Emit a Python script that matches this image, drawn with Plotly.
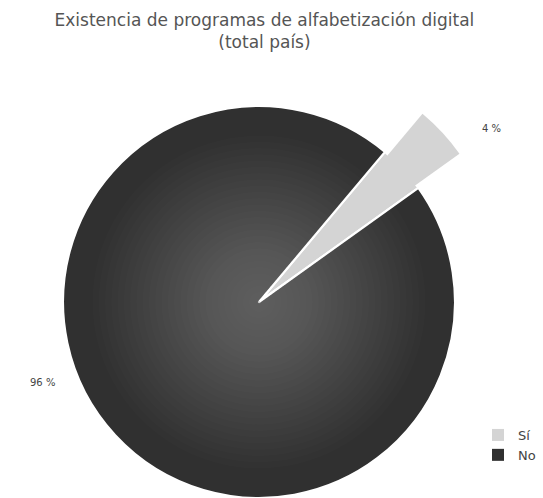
import plotly.graph_objects as go

# Datos
labels = ["Sí", "No"]
values = [4, 96]
colors = ["#d4d4d4", "#303030"]

W, H = 543, 498

def px_dom(cx, cy, r):
    """Domain (paper fractions) of a square of radius r centred at pixel (cx, cy)."""
    return dict(x=[max(0, (cx - r) / W), min(1, (cx + r) / W)],
                y=[max(0, 1 - (cy + r) / H), min(1, 1 - (cy - r) / H)])

CX, CY, R = 259, 302, 196          # main pie
ROT = 40                           # start angle of the first slice (clockwise)

def pie(domain, slice_colors, line_width=0, **kw):
    return go.Pie(
        labels=labels, values=values, sort=False, direction="clockwise", rotation=ROT,
        domain=domain, textinfo="none",
        marker=dict(colors=slice_colors, line=dict(color="white", width=line_width)),
        **kw,
    )

fig = go.Figure()

# Main pie
fig.add_trace(pie(px_dom(CX, CY, R), colors, 2.2,
                  hoverinfo="label+percent", showlegend=False))

# Soft radial highlight on the dark slice
n_layers = 26
for i in range(n_layers):
    f = 0.85 - i * (0.80 / (n_layers - 1))
    fig.add_trace(pie(px_dom(CX, CY, R * f),
                      ["rgba(0,0,0,0)", "rgba(255,255,255,0.011)"],
                      hoverinfo="skip", showlegend=False))

# Exploded "Sí" wedge, reaching beyond the main disc
fig.add_trace(pie(px_dom(CX + 24, CY - 22, 217), [colors[0], "rgba(0,0,0,0)"],
                  hoverinfo="skip", showlegend=False))

# Legend entries
fig.add_trace(pie(px_dom(CX, CY, 0.5), colors, hoverinfo="skip", showlegend=True))

# Percentage labels
fig.add_annotation(x=503 / W, y=1 - 121 / H, xref="paper", yref="paper",
                   text=f"{values[0]} %", showarrow=False,
                   font=dict(size=10, color="#444444"))
fig.add_annotation(x=28 / W, y=1 - 390 / H, xref="paper", yref="paper",
                   text=f"{values[1]} %", showarrow=False,
                   font=dict(size=10, color="#444444"))

fig.update_layout(
    width=W, height=H,
    margin=dict(l=0, r=0, t=0, b=0),
    paper_bgcolor="white", plot_bgcolor="white",
    font=dict(family="DejaVu Sans", color="#444444"),
    title=dict(text="Existencia de programas de alfabetización digital<br>(total país)",
               x=0.487, xanchor="center", y=1 - 26 / H, yanchor="top",
               font=dict(size=17, color="#555555", family="DejaVu Sans")),
    legend=dict(x=478 / W, y=1 - 420 / H, xanchor="left", yanchor="top",
                bgcolor="rgba(0,0,0,0)", font=dict(size=13, color="#444444"),
                itemclick=False, itemdoubleclick=False),
)

fig.write_html("out.html")
